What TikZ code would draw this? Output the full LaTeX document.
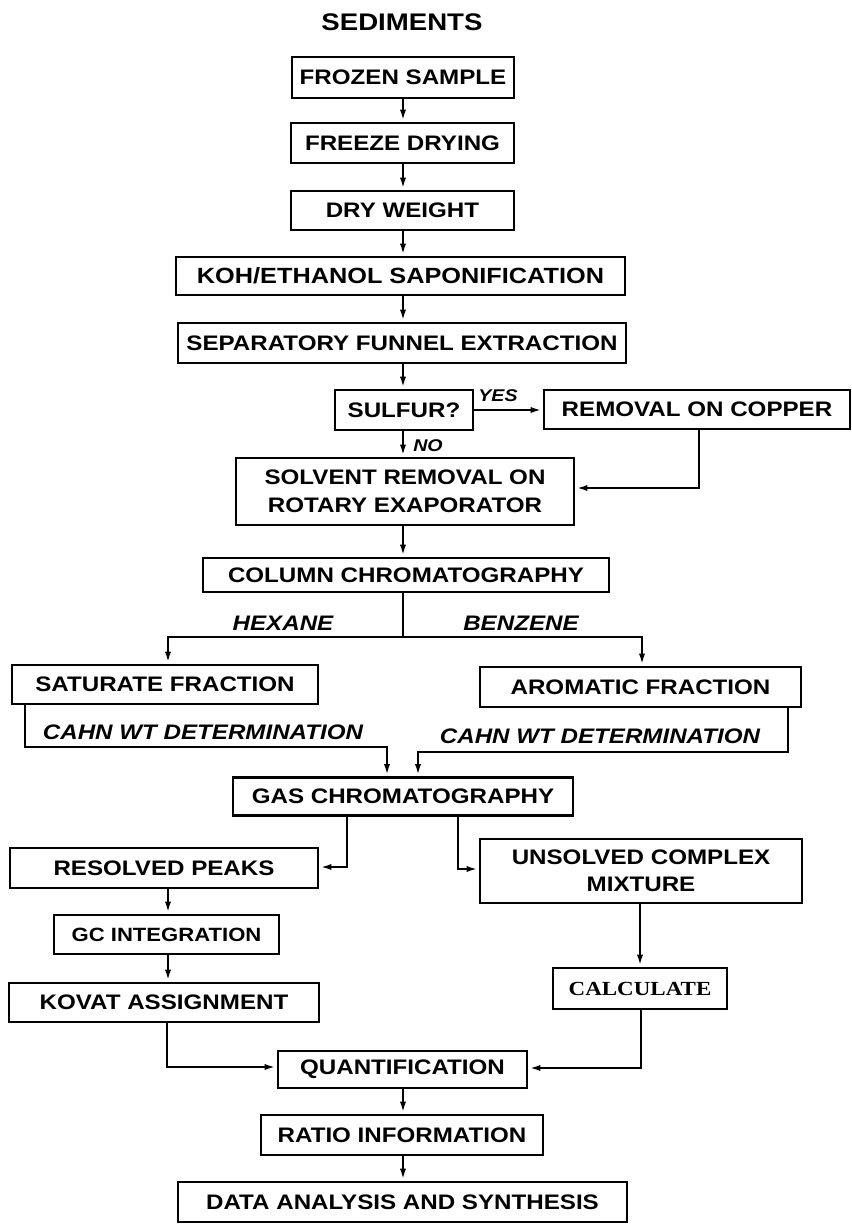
\documentclass[tikz,border=0pt]{standalone}
\usepackage{fontspec}
\setmainfont[FakeStretch=1.15]{Liberation Sans}
\newfontfamily\calcfont[FakeStretch=1.15]{Liberation Serif}
\usetikzlibrary{arrows.meta}
\tikzset{
  box/.style={draw, line width=1.35pt, inner sep=0pt, align=center, font=\fontsize{10.5}{13.75}\selectfont\bfseries},
  boldbox/.style={box, font=\fontsize{10.5}{13.75}\selectfont\bfseries},
  titletext/.style={inner sep=0pt, font=\fontsize{12}{14}\selectfont\bfseries},
  conn/.style={line width=1.2pt},
  arr/.style={conn, -{Latex[length=6pt,width=3pt]}},
  lbl/.style={inner sep=0pt, font=\fontsize{10.5}{12}\selectfont\bfseries\itshape},
  yesno/.style={inner sep=0pt, font=\fontsize{8.5}{10}\selectfont\bfseries\itshape},
}
\begin{document}
\begin{tikzpicture}[x=0.5pt,y=-0.5pt]
\fill[white] (0,0) rectangle (851,1224);
\useasboundingbox (0,0) rectangle (851,1224);
\clip (0,0) rectangle (851,1224);

\node[titletext] (title) at (402,22.5) {SEDIMENTS};

\node[boldbox, minimum width=111pt, minimum height=20.5pt] (frozen) at (403,77.5) {FROZEN SAMPLE};
\node[boldbox, minimum width=111.5pt, minimum height=20pt] (freeze) at (402.5,143) {FREEZE DRYING};
\node[boldbox, minimum width=111.5pt, minimum height=19.5pt] (dry) at (402.5,210.5) {DRY WEIGHT};
\node[boldbox, minimum width=224.5pt, minimum height=19pt, font=\fontsize{11}{13.75}\selectfont\bfseries] (koh) at (400.5,276) {KOH/ETHANOL SAPONIFICATION};
\node[boldbox, minimum width=224pt, minimum height=20pt] (sep) at (402,343) {SEPARATORY FUNNEL EXTRACTION};
\node[box, minimum width=69pt, minimum height=20pt] (sulfur) at (404,410) {SULFUR?};
\node[box, minimum width=153pt, minimum height=19.5pt] (copper) at (697,409.5) {REMOVAL ON COPPER};
\node[box, minimum width=169pt, minimum height=33.5pt] (solvent) at (405,491.5) {SOLVENT REMOVAL ON\\ROTARY EXAPORATOR};
\node[box, minimum width=203pt, minimum height=17pt] (column) at (406,575) {COLUMN CHROMATOGRAPHY};
\node[box, minimum width=153pt, minimum height=19.5pt] (saturate) at (165,684.5) {SATURATE FRACTION};
\node[box, minimum width=160.5pt, minimum height=20pt] (aromatic) at (640.5,687) {AROMATIC FRACTION};
\node[box, minimum width=170pt, minimum height=19pt] (gas) at (403,796.5) {GAS CHROMATOGRAPHY};
\node[box, minimum width=154pt, minimum height=20pt] (resolved) at (164,868) {RESOLVED PEAKS};
\node[box, minimum width=161pt, minimum height=32pt] (unsolved) at (641,871) {UNSOLVED COMPLEX\\MIXTURE};
\node[box, minimum width=112.5pt, minimum height=19.5pt, font=\fontsize{9.6}{12}\selectfont\bfseries] (gc) at (166.5,934.5) {GC INTEGRATION};
\node[box, minimum width=155pt, minimum height=19.5pt] (kovat) at (164,1002.5) {KOVAT ASSIGNMENT};
\node[box, minimum width=87pt, minimum height=20.5pt, font=\fontsize{10}{12}\selectfont\calcfont\bfseries] (calc) at (640,988.5) {CALCULATE};
\node[box, minimum width=124.5pt, minimum height=18.5pt] (quant) at (402.5,1069.5) {QUANTIFICATION};
\node[box, minimum width=141pt, minimum height=20pt] (ratio) at (402,1135) {RATIO INFORMATION};
\node[box, minimum width=224.5pt, minimum height=20pt] (data) at (402.5,1202) {DATA ANALYSIS AND SYNTHESIS};

% labels
\node[yesno] (yes) at (498,396) {YES};
\node[yesno] (no) at (428,445.5) {NO};
\node[lbl] (hexane) at (283,623) {HEXANE};
\node[lbl] (benzene) at (521,623) {BENZENE};
\node[lbl] (cahnL) at (203,732.5) {CAHN WT DETERMINATION};
\node[lbl] (cahnR) at (600,736) {CAHN WT DETERMINATION};

% helper coordinates
\coordinate (cx) at (403,0);
\coordinate (cpx) at (699,488);
\coordinate (split) at (403,637);
\coordinate (sL) at (25,0);
\coordinate (gL) at (387,747);
\coordinate (aR) at (788,0);
\coordinate (gR) at (418,752);
\coordinate (g1) at (347,867);
\coordinate (g2) at (458,869);
\coordinate (k1) at (167,1067);
\coordinate (k2) at (641,1068);

% connectors
\draw[arr] (frozen.south -| cx) -- (freeze.north -| cx);
\draw[arr] (freeze.south -| cx) -- (dry.north -| cx);
\draw[arr] (dry.south -| cx) -- (koh.north -| cx);
\draw[arr] (koh.south -| cx) -- (sep.north -| cx);
\draw[arr] (sep.south -| cx) -- (sulfur.north -| cx);
\draw[arr] (sulfur.east) -- (sulfur.east -| copper.west);
\draw[arr] (sulfur.south -| cx) -- (solvent.north -| cx);
\draw[arr] (copper.south -| cpx) -- (cpx) -- (solvent.east |- cpx);
\draw[arr] (solvent.south -| cx) -- (column.north -| cx);
\draw[conn] (column.south -| split) -- (split);
\draw[arr] (split) -| (saturate.north -| 168,0);
\draw[arr] (split) -| (aromatic.north -| 642,0);
\draw[arr] (saturate.south -| sL) |- (gL) -- (gas.north -| gL);
\draw[arr] (aromatic.south -| aR) |- (gR) -- (gas.north -| gR);
\draw[arr] (gas.south -| g1) -- (g1) -- (resolved.east |- g1);
\draw[arr] (gas.south -| g2) -- (g2) -- (unsolved.west |- g2);
\draw[arr] (resolved.south -| 168,0) -- (gc.north -| 168,0);
\draw[arr] (gc.south -| 168,0) -- (kovat.north -| 168,0);
\draw[arr] (unsolved.south -| calc.north) -- (calc.north);
\draw[arr] (kovat.south -| k1) -- (k1) -- (quant.west |- k1);
\draw[arr] (calc.south -| k2) -- (k2) -- (quant.east |- k2);
\draw[arr] (quant.south -| cx) -- (ratio.north -| cx);
\draw[arr] (ratio.south -| cx) -- (data.north -| cx);
\end{tikzpicture}
\end{document}
